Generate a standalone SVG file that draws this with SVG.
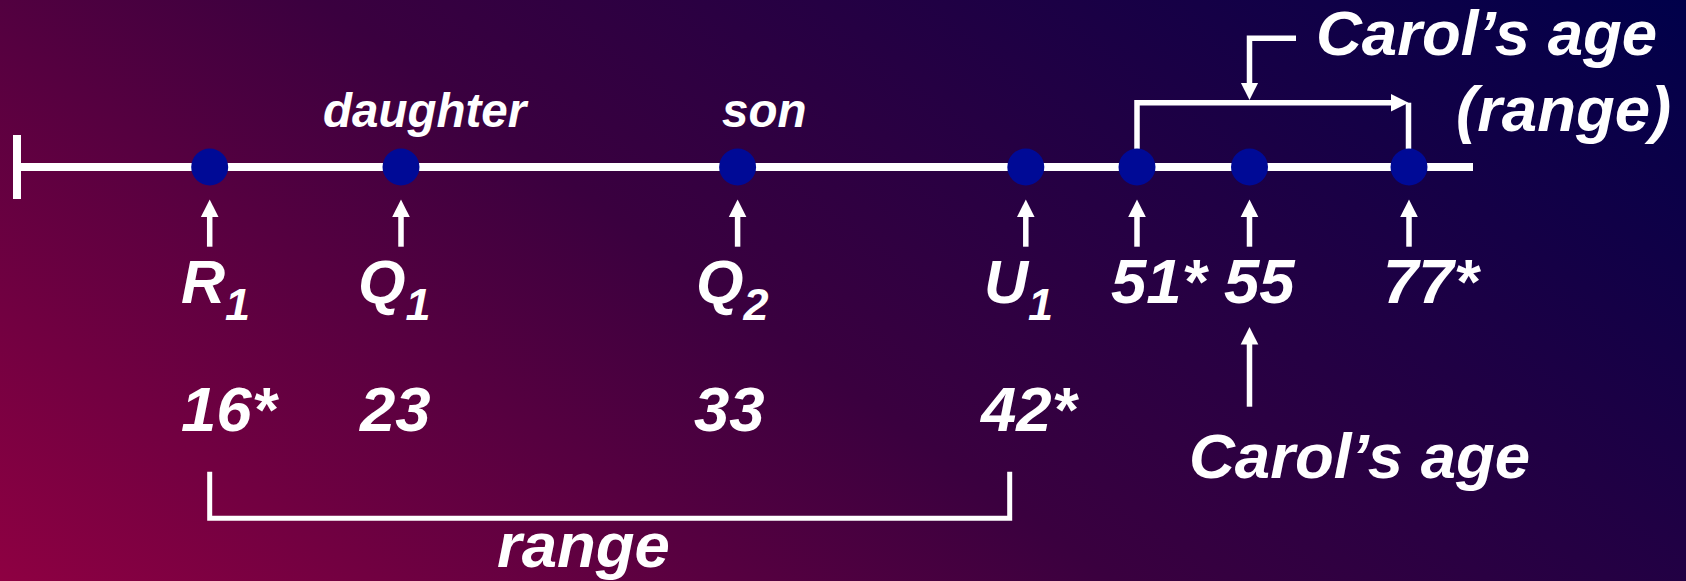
<svg xmlns="http://www.w3.org/2000/svg" width="1686" height="581" viewBox="0 0 1686 581">
<defs>
<linearGradient id="bg" gradientUnits="userSpaceOnUse" x1="0" y1="581" x2="865" y2="-601">
<stop offset="0" stop-color="#8E0042"/>
<stop offset="0.45" stop-color="#3A003F"/>
<stop offset="1" stop-color="#00004A"/>
</linearGradient>
<marker id="ah" markerUnits="userSpaceOnUse" markerWidth="20" markerHeight="20" viewBox="0 -10 20 20" refX="0.5" refY="0" orient="auto">
<path d="M0,-8.8 L17.5,0 L0,8.8 z" fill="#fff"/>
</marker>
</defs>
<style>
text{font-family:"Liberation Sans",Arial,sans-serif;font-weight:bold;font-style:italic;fill:#fff}
.lab{font-size:61px}
.num{font-size:63.5px}
.sm{font-size:47.5px}
.dot{fill:#000A96}
.ln{stroke:#fff;fill:none}
.arr{stroke:#fff;stroke-width:5.5;fill:none;marker-end:url(#ah)}
</style>
<rect width="1686" height="581" fill="url(#bg)"/>
<g id="axis">
<path class="ln" stroke-width="8" d="M17,135 V199 M17,167 H1473"/>
</g>
<g id="connectors">
<path class="arr" d="M209.7,246.7 V216.5"/>
<path class="arr" d="M401,246.7 V216.5"/>
<path class="arr" d="M737.6,246.7 V216.5"/>
<path class="arr" d="M1025.8,246.7 V216.5"/>
<path class="arr" d="M1137,246.7 V216.5"/>
<path class="arr" d="M1249.5,246.7 V216.5"/>
<path class="arr" d="M1409,246.7 V216.5"/>
<path class="arr" d="M1249.5,406.7 V344"/>
<path class="arr" d="M1296,38.3 H1249.5 V83"/>
<path class="arr" d="M1137,152 V102.7 H1391.5"/>
<path class="ln" stroke-width="5.5" d="M1408.5,102.7 V152"/>
<path class="ln" stroke-width="5" d="M209.7,471.7 V518.3 H1009.7 V471.7"/>
</g>
<g id="node-R1">
<circle class="dot" cx="209.7" cy="167" r="18.5"/>
<text class="lab" x="181" y="302.7">R<tspan font-size="45" dy="17">1</tspan></text>
<text class="num" x="181" y="430.7">16*</text>
</g>
<g id="node-Q1">
<circle class="dot" cx="401" cy="167" r="18.5"/>
<text class="sm" x="323" y="127">daughter</text>
<text class="lab" x="358" y="302.7">Q<tspan font-size="45" dy="17">1</tspan></text>
<text class="num" x="360" y="430.7">23</text>
</g>
<g id="node-Q2">
<circle class="dot" cx="737.6" cy="167" r="18.5"/>
<text class="sm" x="722" y="127">son</text>
<text class="lab" x="696" y="302.7">Q<tspan font-size="45" dy="17">2</tspan></text>
<text class="num" x="694" y="430.7">33</text>
</g>
<g id="node-U1">
<circle class="dot" cx="1025.8" cy="167" r="18.5"/>
<text class="lab" x="984" y="302.7">U<tspan font-size="45" dy="17">1</tspan></text>
<text class="num" x="981" y="430.7">42*</text>
</g>
<g id="node-51">
<circle class="dot" cx="1137" cy="167" r="18.5"/>
<text class="num" x="1111" y="302.7">51*</text>
</g>
<g id="node-55">
<circle class="dot" cx="1249.5" cy="167" r="18.5"/>
<text class="num" x="1224" y="302.7">55</text>
<text class="num" x="1189" y="478.3">Carol’s age</text>
</g>
<g id="node-77">
<circle class="dot" cx="1409" cy="167" r="18.5"/>
<text class="num" x="1383" y="302.7">77*</text>
</g>
<g id="label-carol-range">
<text class="num" x="1316" y="55">Carol’s age</text>
<text class="num" x="1456" y="131">(range)</text>
</g>
<g id="label-range">
<text class="num" x="497" y="567">range</text>
</g>
</svg>
